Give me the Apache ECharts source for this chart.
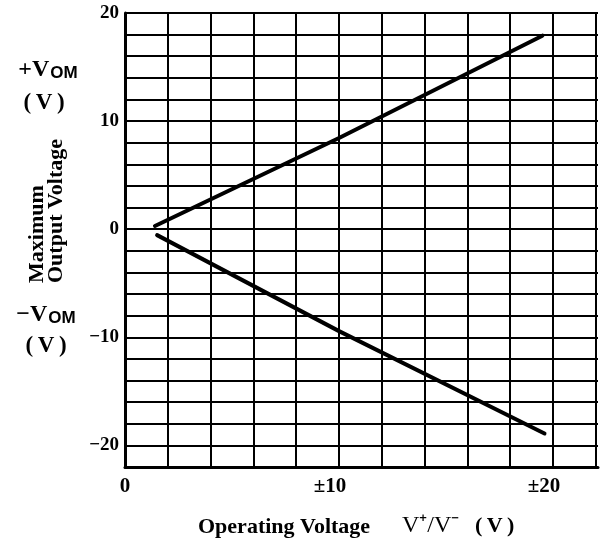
<!DOCTYPE html>
<html><head><meta charset="utf-8">
<script src="https://cdn.jsdelivr.net/npm/echarts@6/dist/echarts.min.js"></script>
<style>html,body{margin:0;padding:0;background:#fff}#c{width:601px;height:544px}</style>
</head><body><div id="c"></div>
<script>
// tick labels
const xLabelValues = [0, 10, 20];
const xLabelTexts = ['0', '±10', '±20'];
const yLabelValues = [20, 10, 0, -10, -20];
const yLabelTexts = ['20', '10', '0', '−10', '−20'];
// +VOM curve
const posX = [1.4, 10, 19.5];
const posY = [0.3, 8.44, 17.9];
// -VOM curve
const negX = [1.5, 10, 19.6];
const negY = [-0.55, -9.43, -18.9];

const SERIF = '"Liberation Serif","Times New Roman",serif';
const SANS = '"Liberation Sans",Arial,sans-serif';
const chart = echarts.init(document.getElementById('c'), null, {renderer: 'canvas'});

function pairs(xs, ys) { return xs.map((x, i) => [x, ys[i]]); }

chart.setOption({
  animation: false,
  backgroundColor: '#fff',
  grid: {left: 125, right: 0, top: 13, bottom: 77},
  xAxis: {
    type: 'value', min: 0, max: 22.1, interval: 2,
    axisLine: {show: true, onZero: false, lineStyle: {color: '#000', width: 3}},
    axisTick: {show: false},
    splitLine: {show: true, showMaxLine: false, showMinLine: false, lineStyle: {color: '#000', width: 2}},
    axisLabel: {
      margin: 9,
      formatter: function (v) {
        const i = xLabelValues.indexOf(v);
        if (i < 0) return '';
        return v === 0 ? '{z|' + xLabelTexts[i] + '}' : '{p|' + xLabelTexts[i] + '}';
      },
      rich: {
        z: {fontFamily: SERIF, fontWeight: 'bold', fontSize: 21, color: '#000'},
        p: {fontFamily: SERIF, fontWeight: 'bold', fontSize: 21, color: '#000', padding: [0, 18, 0, 0]}
      }
    }
  },
  yAxis: {
    type: 'value', min: -22, max: 20, interval: 2,
    axisLine: {show: true, onZero: false, lineStyle: {color: '#000', width: 3}},
    axisTick: {show: false},
    splitLine: {show: true, showMinLine: false, lineStyle: {color: '#000', width: 2}},
    axisLabel: {
      margin: 6,
      fontFamily: SERIF, fontWeight: 'bold', fontSize: 19, color: '#000',
      formatter: function (v) {
        const i = yLabelValues.indexOf(v);
        return i < 0 ? '' : yLabelTexts[i];
      }
    }
  },
  series: [
    {type: 'line', data: pairs(posX, posY), showSymbol: false, symbol: 'none',
     lineStyle: {color: '#000', width: 4, cap: 'round'}},
    {type: 'line', data: pairs(negX, negY), showSymbol: false, symbol: 'none',
     lineStyle: {color: '#000', width: 4, cap: 'round'}}
  ],
  graphic: [
    {type: 'text', x: 48, y: 70, style: {
      text: '{a|+V}{b|OM}', align: 'center', verticalAlign: 'middle',
      rich: {
        a: {fontFamily: SERIF, fontWeight: 'bold', fontSize: 24, color: '#000'},
        b: {fontFamily: SANS, fontWeight: 'bold', fontSize: 17, color: '#000', padding: [7, 0, 0, 1]}
      }}},
    {type: 'text', x: 44, y: 103, style: {text: '(\u2009V\u2009)', align: 'center', verticalAlign: 'middle',
      font: 'bold 23px ' + SERIF, fill: '#000'}},
    {type: 'text', x: 46, y: 315, style: {
      text: '{a|−V}{b|OM}', align: 'center', verticalAlign: 'middle',
      rich: {
        a: {fontFamily: SERIF, fontWeight: 'bold', fontSize: 24, color: '#000'},
        b: {fontFamily: SANS, fontWeight: 'bold', fontSize: 17, color: '#000', padding: [7, 0, 0, 1]}
      }}},
    {type: 'text', x: 46, y: 346, style: {text: '(\u2009V\u2009)', align: 'center', verticalAlign: 'middle',
      font: 'bold 23px ' + SERIF, fill: '#000'}},
    {type: 'text', x: 37, y: 283, rotation: Math.PI / 2, style: {text: 'Maximum', align: 'left', verticalAlign: 'middle',
      font: 'bold 22px ' + SERIF, fill: '#000'}},
    {type: 'text', x: 56, y: 283, rotation: Math.PI / 2, style: {text: 'Output Voltage', align: 'left', verticalAlign: 'middle',
      font: 'bold 22px ' + SERIF, fill: '#000'}},
    {type: 'text', x: 198, y: 527, style: {text: 'Operating Voltage', align: 'left', verticalAlign: 'middle',
      font: 'bold 22px ' + SERIF, fill: '#000'}},
    {type: 'text', x: 402, y: 526, style: {text: 'V⁺/V⁻', align: 'left', verticalAlign: 'middle',
      font: '24px ' + SERIF, fill: '#000'}},
    {type: 'text', x: 475, y: 526, style: {text: '(\u2009V\u2009)', align: 'left', verticalAlign: 'middle',
      font: 'bold 22px ' + SERIF, fill: '#000'}}
  ]
});
</script></body></html>
